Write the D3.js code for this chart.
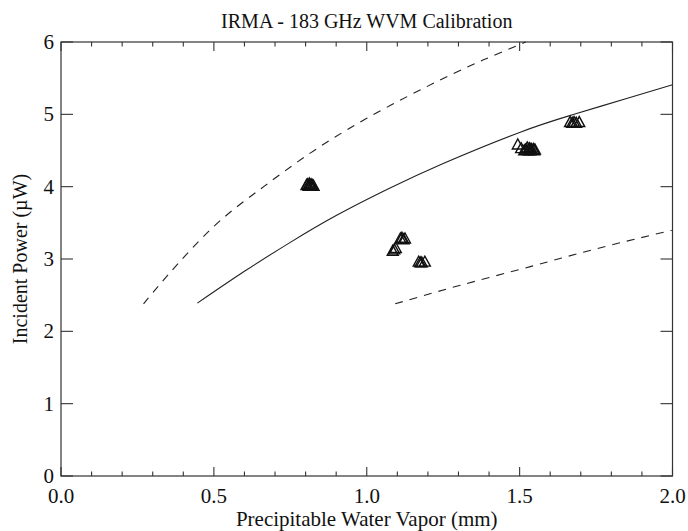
<!DOCTYPE html>
<html><head><meta charset="utf-8">
<script src="https://cdn.jsdelivr.net/npm/d3@7"></script>
<style>body{margin:0;background:#fff}</style>
</head><body>
<svg id="chart" width="688" height="531"></svg>
<script>
const title = "IRMA - 183 GHz WVM Calibration";
const xLabel = "Precipitable Water Vapor (mm)";
const yLabel = "Incident Power (\u00b5W)";
const xTicks = [0.0, 0.5, 1.0, 1.5, 2.0];
const yTicks = [0, 1, 2, 3, 4, 5, 6];

// observed points (PWV mm, power uW)
const obsX = [0.803,0.806,0.81,0.812,0.815,0.818,0.82,0.823,0.826,
  1.085,1.09,1.095,1.11,1.115,1.12,1.125, 1.17,1.175,1.18,1.19,
  1.494,1.505,1.515,1.52,1.525,1.528,1.53,1.533,1.535,1.538,1.54,1.545,1.548,1.55,
  1.665,1.672,1.678,1.685,1.695];
const obsY = [4.03,4.04,4.02,4.05,4.03,4.04,4.02,4.03,4.02,
  3.12,3.14,3.16,3.29,3.30,3.28,3.29, 2.97,2.96,2.96,2.97,
  4.59,4.54,4.51,4.52,4.55,4.51,4.53,4.54,4.51,4.53,4.52,4.53,4.51,4.52,
  4.90,4.89,4.90,4.89,4.90];

// model curve (solid)
const fitX = [0.446,0.6,0.75,0.9,1.066,1.25,1.5,1.67,1.85,2.0];
const fitY = [2.39,2.83,3.23,3.60,3.96,4.32,4.75,4.99,5.22,5.41];
// upper bound (dashed)
const upX = [0.27,0.35,0.5,0.65,0.8,1.0,1.24,1.38,1.52];
const upY = [2.38,2.78,3.45,3.96,4.42,4.945,5.475,5.75,6.0];
// lower bound (dashed)
const loX = [1.093,1.3,1.535,1.75,2.0];
const loY = [2.38,2.63,2.895,3.14,3.40];

const svg = d3.select("#chart");
const L = 61, R = 672.5, T = 42, B = 476;
const x = d3.scaleLinear().domain([0, 2]).range([L, R]);
const y = d3.scaleLinear().domain([0, 6]).range([B, T]);
const font = "Liberation Serif, Times New Roman, serif";
const axisColor = "#333";

const g = svg.append("g");
g.append("rect").attr("x", L).attr("y", T).attr("width", R - L).attr("height", B - T)
  .attr("fill", "none").attr("stroke", axisColor).attr("stroke-width", 1.2);

const xMinor = d3.range(0, 21).map(d => d / 10);
xMinor.forEach(v => {
  const major = Math.abs(v * 2 - Math.round(v * 2)) < 1e-6;
  const len = major ? 9 : 4.5;
  g.append("line").attr("x1", x(v)).attr("x2", x(v)).attr("y1", B).attr("y2", B - len)
    .attr("stroke", axisColor).attr("stroke-width", 1.1);
  g.append("line").attr("x1", x(v)).attr("x2", x(v)).attr("y1", T).attr("y2", T + len)
    .attr("stroke", axisColor).attr("stroke-width", 1.1);
});
xTicks.forEach(v => {
  g.append("text").attr("x", x(v)).attr("y", 503).attr("text-anchor", "middle")
    .attr("font-family", font).attr("font-size", 21).attr("fill", "#111").text(v.toFixed(1));
});
yTicks.forEach(v => {
  g.append("line").attr("x1", L).attr("x2", L + 12).attr("y1", y(v)).attr("y2", y(v))
    .attr("stroke", axisColor).attr("stroke-width", 1.1);
  g.append("line").attr("x1", R).attr("x2", R - 12).attr("y1", y(v)).attr("y2", y(v))
    .attr("stroke", axisColor).attr("stroke-width", 1.1);
  g.append("text").attr("x", 54).attr("y", y(v) + 7).attr("text-anchor", "end")
    .attr("font-family", font).attr("font-size", 21).attr("fill", "#111").text(v);
});

svg.append("text").attr("x", (L + R) / 2).attr("y", 28).attr("text-anchor", "middle")
  .attr("font-family", font).attr("font-size", 20).attr("fill", "#111").text(title);
svg.append("text").attr("x", (L + R) / 2).attr("y", 526).attr("text-anchor", "middle")
  .attr("font-family", font).attr("font-size", 21).attr("fill", "#111").text(xLabel);
svg.append("text").attr("transform", `translate(27,${(T + B) / 2}) rotate(-90)`)
  .attr("text-anchor", "middle").attr("font-family", font).attr("font-size", 20)
  .attr("fill", "#111").text(yLabel);

const line = d3.line().x(d => x(d[0])).y(d => y(d[1])).curve(d3.curveNatural);
const zip = (a, b) => a.map((v, i) => [v, b[i]]);
svg.append("path").datum(zip(fitX, fitY)).attr("d", line).attr("fill", "none")
  .attr("stroke", "#222").attr("stroke-width", 1.1);
svg.append("path").datum(zip(upX, upY)).attr("d", line).attr("fill", "none")
  .attr("stroke", "#222").attr("stroke-width", 1.1).attr("stroke-dasharray", "8,7");
svg.append("path").datum(zip(loX, loY)).attr("d", line).attr("fill", "none")
  .attr("stroke", "#222").attr("stroke-width", 1.1).attr("stroke-dasharray", "8,7");

svg.selectAll("path.pt").data(zip(obsX, obsY)).enter().append("path").attr("class", "pt")
  .attr("d", d => {
    const cx = x(d[0]), cy = y(d[1]);
    return `M${cx - 5.5},${cy + 5}L${cx},${cy - 5}L${cx + 5.5},${cy + 5}Z`;
  })
  .attr("fill", "none").attr("stroke", "#111").attr("stroke-width", 1.4);
</script>
</body></html>
